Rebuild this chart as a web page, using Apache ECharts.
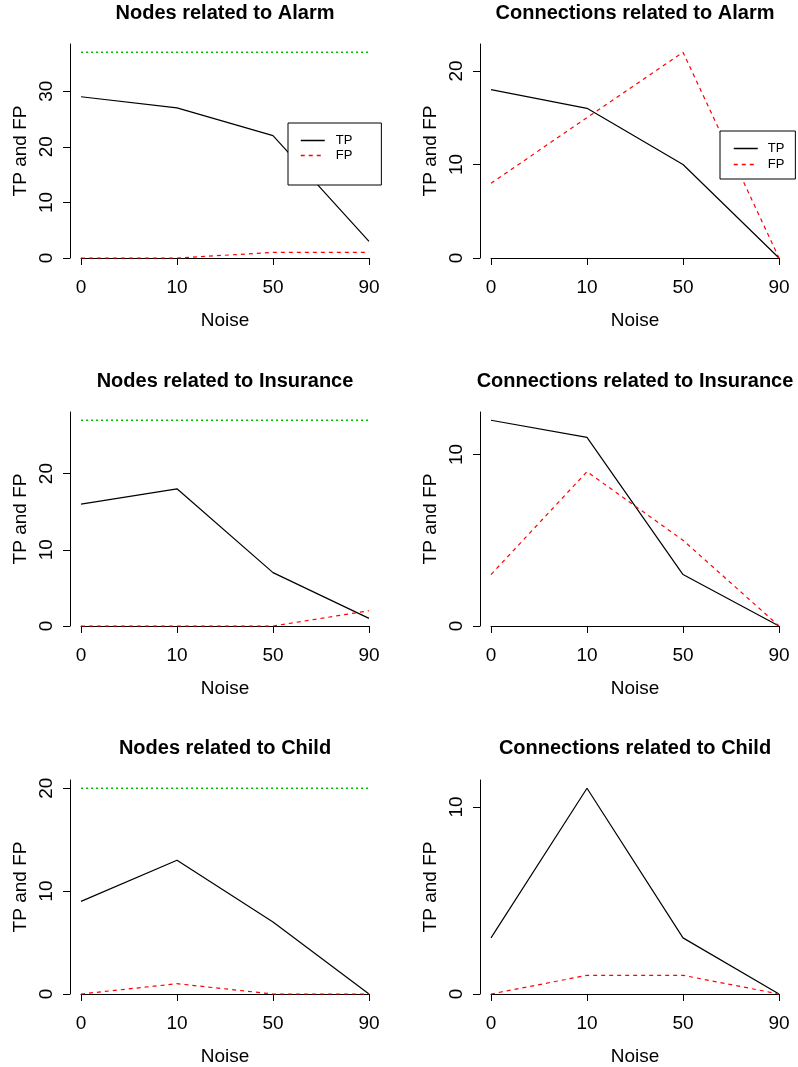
<!DOCTYPE html>
<html>
<head>
<meta charset="utf-8">
<script src="https://cdn.jsdelivr.net/npm/echarts@6/dist/echarts.min.js"></script>
<style>html,body{margin:0;padding:0;background:#fff}#c{width:798px;height:1067px}</style>
</head>
<body>
<div id="c"></div>
<script>
const noise = ['0', '10', '50', '90'];

const alarmNodesTP = [29, 27, 22, 3];
const alarmNodesFP = [0, 0, 1, 1];
const alarmNodesTotal = [37, 37, 37, 37];
const alarmConnTP = [18, 16, 10, 0];
const alarmConnFP = [8, 15, 22, 0];

const insNodesTP = [16, 18, 7, 1];
const insNodesFP = [0, 0, 0, 2];
const insNodesTotal = [27, 27, 27, 27];
const insConnTP = [12, 11, 3, 0];
const insConnFP = [3, 9, 5, 0];

const childNodesTP = [9, 13, 7, 0];
const childNodesFP = [0, 1, 0, 0];
const childNodesTotal = [20, 20, 20, 20];
const childConnTP = [3, 11, 3, 0];
const childConnFP = [0, 1, 1, 0];

const alarmNodesTicks = [0, 10, 20, 30];
const alarmConnTicks = [0, 10, 20];
const insNodesTicks = [0, 10, 20];
const insConnTicks = [0, 10];
const childNodesTicks = [0, 10, 20];
const childConnTicks = [0, 10];

const titles = [
  'Nodes related to Alarm', 'Connections related to Alarm',
  'Nodes related to Insurance', 'Connections related to Insurance',
  'Nodes related to Child', 'Connections related to Child'
];

const panels = [
  {tp: alarmNodesTP, fp: alarmNodesFP, total: alarmNodesTotal, ticks: alarmNodesTicks},
  {tp: alarmConnTP, fp: alarmConnFP, total: null, ticks: alarmConnTicks},
  {tp: insNodesTP, fp: insNodesFP, total: insNodesTotal, ticks: insNodesTicks},
  {tp: insConnTP, fp: insConnFP, total: null, ticks: insConnTicks},
  {tp: childNodesTP, fp: childNodesFP, total: childNodesTotal, ticks: childNodesTicks},
  {tp: childConnTP, fp: childConnFP, total: null, ticks: childConnTicks}
];

const FONT = '"Liberation Sans", Arial, sans-serif';
const colLeft = [81, 491];
const colTitle = [225, 635];
const rowTop = [44, 412, 780];
const titleTop = [3, 371, 738];
const plotW = 288, plotH = 214;

const grid = [], xAxis = [], yAxis = [], series = [], title = [];
panels.forEach((p, i) => {
  const r = Math.floor(i / 2), c = i % 2;
  const all = p.tp.concat(p.fp, p.total || []);
  const ymax = Math.max(...all) * 1.04;
  grid.push({left: colLeft[c], top: rowTop[r], width: plotW, height: plotH});
  title.push({
    text: titles[i], left: colTitle[c], top: titleTop[r], textAlign: 'center', padding: 0,
    textStyle: {fontSize: 20, fontWeight: 'bold', color: '#000', fontFamily: FONT}
  });
  xAxis.push({
    gridIndex: i, type: 'category', data: noise, boundaryGap: false, offset: 8,
    axisLine: {show: true, lineStyle: {color: '#000', width: 1}},
    axisTick: {show: true, length: 7, lineStyle: {color: '#000', width: 1}},
    axisLabel: {margin: 12, fontSize: 19, color: '#000', fontFamily: FONT},
    splitLine: {show: false},
    name: 'Noise', nameLocation: 'middle', nameGap: 45,
    nameTextStyle: {fontSize: 19, color: '#000', fontFamily: FONT}
  });
  yAxis.push({
    gridIndex: i, type: 'value', min: 0, max: ymax, offset: 11,
    axisLine: {show: true, lineStyle: {color: '#000', width: 1}},
    axisTick: {show: true, length: 7, customValues: p.ticks, lineStyle: {color: '#000', width: 1}},
    axisLabel: {customValues: p.ticks, rotate: 90, margin: 14, fontSize: 19, color: '#000', fontFamily: FONT},
    splitLine: {show: false},
    name: 'TP and FP', nameLocation: 'middle', nameGap: 40, nameRotate: 90,
    nameTextStyle: {fontSize: 19, color: '#000', fontFamily: FONT}
  });
  series.push({
    name: 'TP', type: 'line', xAxisIndex: i, yAxisIndex: i, data: p.tp, symbol: 'none', clip: false,
    lineStyle: {color: '#000', width: 1.2, type: 'solid'}, itemStyle: {color: '#000'}, z: 3
  });
  series.push({
    name: 'FP', type: 'line', xAxisIndex: i, yAxisIndex: i, data: p.fp, symbol: 'none', clip: false,
    lineStyle: {color: '#ff0000', width: 1.2, type: [4, 4]}, itemStyle: {color: '#ff0000'}, z: 3
  });
  if (p.total) {
    series.push({
      name: 'Total', type: 'line', xAxisIndex: i, yAxisIndex: i, data: p.total, symbol: 'none', clip: false,
      lineStyle: {color: '#00c000', width: 1.5, type: [2, 3]}, itemStyle: {color: '#00c000'}, z: 3
    });
  }
});

function makeLegend(left, top, padding, itemGap, textPad) {
  return {
    orient: 'vertical', left: left, top: top, padding: padding, itemGap: itemGap,
    data: [
      {name: 'TP', lineStyle: {color: '#000000', width: 1.5, type: 'solid'}},
      {name: 'FP', lineStyle: {color: '#ff0000', width: 1.5, type: [4, 4]}}
    ],
    itemWidth: 24, itemHeight: 14,
    borderColor: '#000', borderWidth: 1, backgroundColor: '#fff', selectedMode: false,
    itemStyle: {opacity: 0},
    textStyle: {fontSize: 13, color: '#000', fontFamily: FONT, padding: [0, 0, 0, textPad]}, z: 10
  };
}
const legend = [
  makeLegend(288, 123, [11, 29, 23, 12], 2, 6),
  makeLegend(720, 131, [11, 11, 8, 13], 3, 5)
];

const chart = echarts.init(document.getElementById('c'), null, {renderer: 'canvas'});
chart.setOption({
  animation: false, backgroundColor: '#fff',
  title, grid, xAxis, yAxis, series, legend
});
</script>
</body>
</html>
